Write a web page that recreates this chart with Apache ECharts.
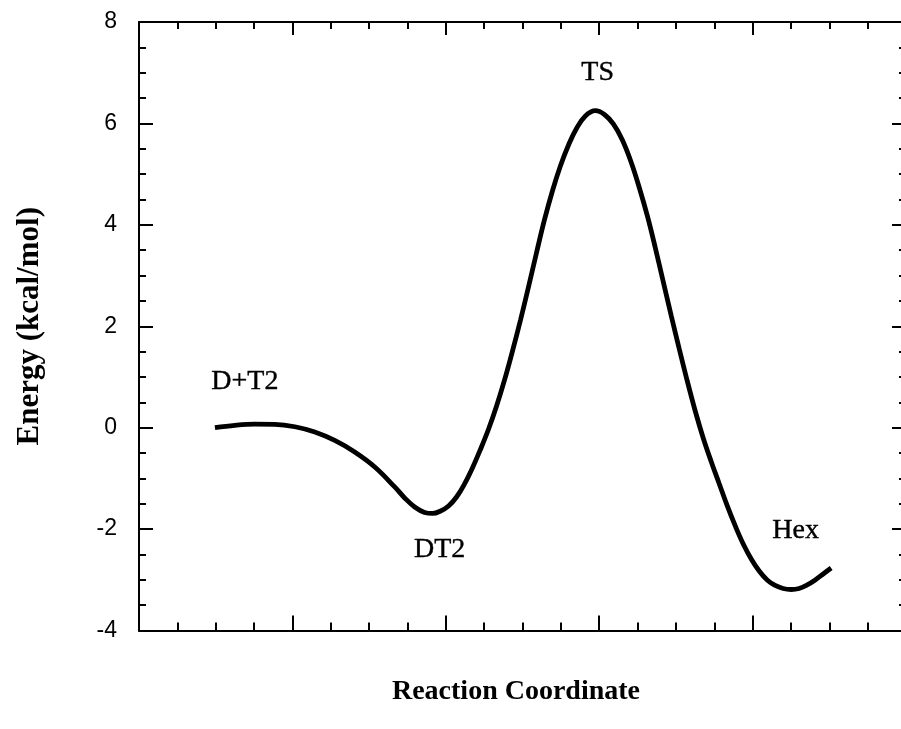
<!DOCTYPE html>
<html>
<head>
<meta charset="utf-8">
<script src="https://cdn.jsdelivr.net/npm/echarts@6/dist/echarts.min.js"></script>
<style>
  html, body { margin: 0; padding: 0; background: #ffffff; }
  #chart { width: 901px; height: 729px; }
</style>
</head>
<body>
<div id="chart"></div>
<script>
// Reaction coordinate (arbitrary units) and energy (kcal/mol)
const reactionCoord = [0.495, 0.625, 0.755, 0.885, 1.016, 1.146, 1.276, 1.406, 1.537, 1.667, 1.732, 1.797, 1.862, 1.914, 1.966, 2.018, 2.070, 2.122, 2.175, 2.227, 2.279, 2.331, 2.383, 2.435, 2.487, 2.539, 2.591, 2.643, 2.695, 2.747, 2.800, 2.852, 2.910, 2.975, 3.034, 3.092, 3.151, 3.210, 3.262, 3.314, 3.366, 3.418, 3.470, 3.522, 3.574, 3.626, 3.678, 3.731, 3.783, 3.835, 3.887, 3.939, 3.991, 4.043, 4.095, 4.147, 4.199, 4.251, 4.303, 4.356, 4.408, 4.460, 4.512];
const energy = [0.000, 0.047, 0.069, 0.065, 0.018, -0.085, -0.252, -0.479, -0.775, -1.169, -1.386, -1.564, -1.672, -1.692, -1.643, -1.544, -1.367, -1.110, -0.785, -0.420, -0.026, 0.428, 0.941, 1.513, 2.124, 2.775, 3.445, 4.096, 4.668, 5.161, 5.575, 5.900, 6.147, 6.251, 6.176, 5.989, 5.673, 5.220, 4.727, 4.175, 3.544, 2.873, 2.203, 1.552, 0.921, 0.329, -0.203, -0.676, -1.110, -1.544, -1.938, -2.293, -2.589, -2.826, -3.003, -3.112, -3.171, -3.191, -3.171, -3.102, -3.003, -2.885, -2.767];

// Species labels and where they sit (data coordinates)
const speciesNames = ['D+T2', 'DT2', 'TS', 'Hex'];
const speciesX = [0.69, 1.96, 2.99, 4.28];
const speciesY = [0.90, -2.41, 7.01, -2.04];

// Axis settings
const xMin = 0, xMax = 5, xInterval = 1;
const yMin = -4, yMax = 8, yInterval = 2;
const xTitle = 'Reaction Coordinate';
const yTitle = 'Energy (kcal/mol)';

const curve = reactionCoord.map((x, i) => [x, energy[i]]);
const speciesPts = speciesNames.map((n, i) => ({ name: n, value: [speciesX[i], speciesY[i]] }));

const black = '#000000';
function xAxisCfg(pos, majorLen, minorLen, withName) {
  return {
    type: 'value', position: pos, min: xMin, max: xMax, interval: xInterval,
    axisLine: { show: true, onZero: false, lineStyle: { color: black, width: 2 } },
    axisTick: { show: true, inside: true, length: majorLen, lineStyle: { color: black, width: 2 } },
    minorTick: { show: true, splitNumber: 4, length: minorLen, lineStyle: { color: black, width: 2 } },
    axisLabel: { show: false },
    splitLine: { show: false },
    name: withName ? xTitle : '',
    nameLocation: 'middle',
    nameGap: 47,
    nameTextStyle: { fontFamily: 'Liberation Serif', fontWeight: 'bold', fontSize: 28, color: black, padding: [0, 13, 0, 0] }
  };
}
function yAxisCfg(pos, withLabels) {
  return {
    type: 'value', position: pos, min: yMin, max: yMax, interval: yInterval,
    axisLine: { show: true, onZero: false, lineStyle: { color: black, width: 2 } },
    axisTick: { show: true, inside: true, length: 14, lineStyle: { color: black, width: 2 } },
    minorTick: { show: true, splitNumber: 4, length: 7, lineStyle: { color: black, width: 2 } },
    axisLabel: { show: withLabels, fontFamily: 'Liberation Sans', fontSize: 23, color: black, margin: 22 },
    splitLine: { show: false },
    name: withLabels ? yTitle : '',
    nameLocation: 'middle',
    nameRotate: 90,
    nameGap: 94,
    nameTextStyle: { fontFamily: 'Liberation Serif', fontWeight: 'bold', fontSize: 31, color: black }
  };
}

const chart = echarts.init(document.getElementById('chart'), null, { renderer: 'canvas' });
chart.setOption({
  backgroundColor: '#ffffff',
  animation: false,
  grid: { left: 139, top: 22, width: 767, height: 608.5, containLabel: false, outerBoundsMode: 'none' },
  xAxis: [xAxisCfg('bottom', 15, 8, true), xAxisCfg('top', 13, 7, false)],
  yAxis: [yAxisCfg('left', true), yAxisCfg('right', false)],
  series: [
    {
      type: 'line',
      data: curve,
      smooth: 0.4,
      showSymbol: false,
      symbol: 'none',
      lineStyle: { color: black, width: 4.8 }
    },
    {
      type: 'scatter',
      data: speciesPts,
      symbolSize: 1,
      itemStyle: { color: 'rgba(0,0,0,0)', opacity: 1 },
      label: {
        show: true, position: 'inside', formatter: '{b}', opacity: 1,
        fontFamily: 'Liberation Serif', fontSize: 28, color: black,
        textBorderColor: black, textBorderWidth: 0.4
      }
    }
  ]
});
</script>
</body>
</html>
